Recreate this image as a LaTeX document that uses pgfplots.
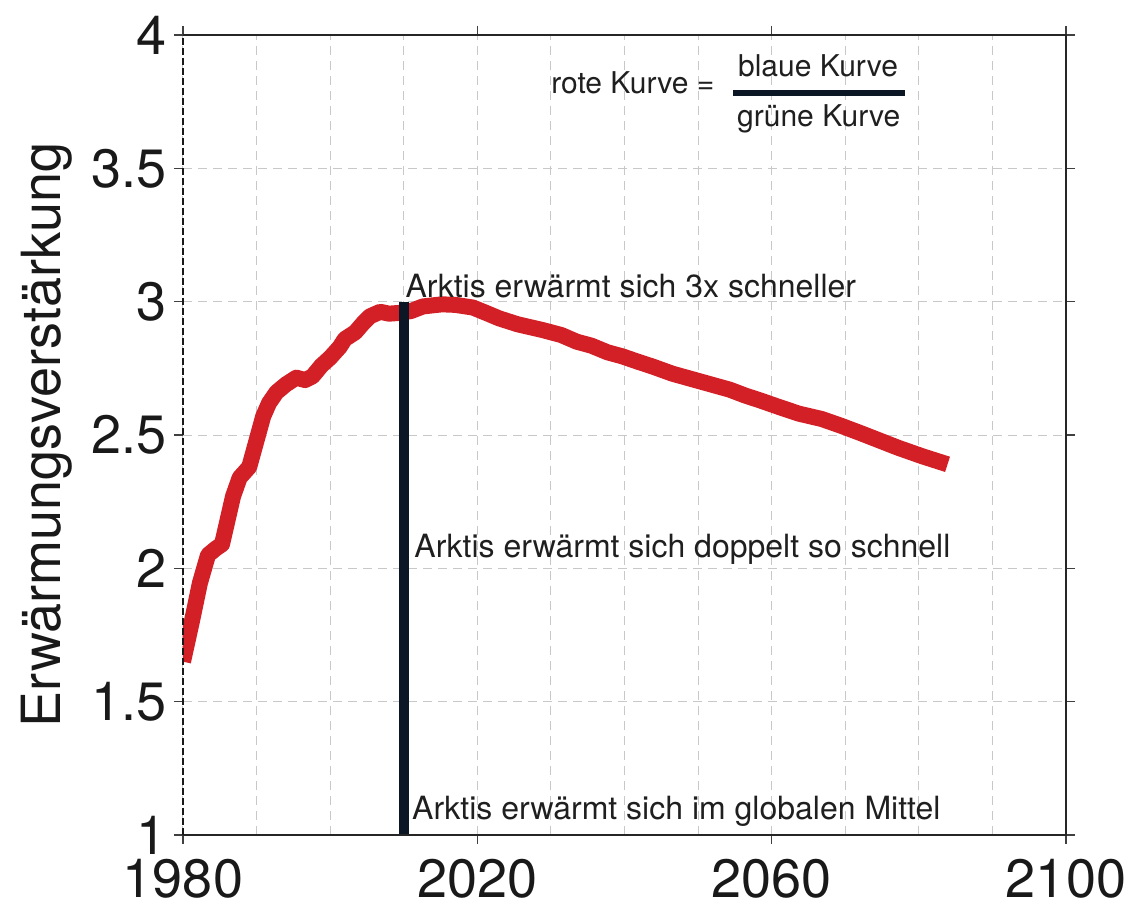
\documentclass[border=0pt]{standalone}
\usepackage{fontspec}
\setmainfont{TeX Gyre Heros}
\usepackage{pgfplots}
\pgfplotsset{compat=1.18}
\definecolor{redc}{HTML}{D32027}
\definecolor{navy}{HTML}{0B1724}
\definecolor{gridc}{HTML}{C8C8C8}
\begin{document}
\begin{tikzpicture}
\begin{axis}[
 name=ax,
 scale only axis, width=441.5pt, height=400pt,
 xmin=1980, xmax=2100, ymin=1, ymax=4,
 xtick={1980,2020,2060,2100},
 minor xtick={1990,2000,2010,2030,2040,2050,2070,2080,2090},
 ytick={1,1.5,2,2.5,3,3.5,4},
 grid=both,
 major grid style={gridc, line width=0.5pt, dash pattern=on 4.5pt off 3pt},
 minor grid style={gridc, line width=0.5pt, dash pattern=on 4.5pt off 3pt},
 tick align=outside, major tick length=4.5pt, minor tick length=0pt,
 tick style={black!75, line width=0.6pt},
 axis line style={draw=none},
 /pgf/number format/assume math mode=true,
 /pgf/number format/1000 sep={},
 tick label style={font=\fontsize{27}{30}\selectfont, text=black!90},
 xticklabel style={yshift=-6.5pt, inner sep=1pt},
 ylabel={Erwärmungsverstärkung},
 ylabel style={font=\fontsize{27}{30}\selectfont, text=black!90, at={(axis description cs:-0.154,0.5)}, anchor=center},
]
\addplot[redc, line width=8pt, line join=round] coordinates {
(1980.0,1.65) (1981.2,1.80) (1982.3,1.945) (1983.4,2.05) (1984.5,2.075)
(1985.3,2.09) (1986.8,2.27) (1987.7,2.34) (1989.0,2.38) (1990.2,2.50)
(1990.9,2.57) (1991.7,2.62) (1992.7,2.66) (1994.0,2.69) (1995.4,2.715)
(1996.6,2.706) (1997.6,2.72) (1998.8,2.76) (2000.0,2.79) (2001.3,2.83)
(2002.0,2.86) (2003.4,2.885) (2004.5,2.92) (2005.4,2.945) (2006.8,2.962)
(2008.0,2.955) (2009.5,2.958) (2011.0,2.965) (2012.6,2.982) (2015.2,2.99)
(2017.0,2.988) (2019.4,2.978) (2021.0,2.96) (2023.0,2.937) (2025.5,2.915)
(2028.8,2.894) (2031.4,2.875) (2033.5,2.85) (2035.5,2.835) (2037.7,2.81)
(2039.7,2.795) (2041.8,2.775) (2043.9,2.756) (2046.5,2.73) (2049.1,2.71)
(2051.7,2.69) (2054.3,2.67) (2056.4,2.648) (2058.4,2.63) (2061.0,2.605)
(2063.7,2.58) (2066.8,2.56) (2069.4,2.535) (2072.0,2.508) (2074.6,2.48)
(2077.2,2.452) (2080.5,2.42) (2083.9,2.39)
};
\addplot[navy, line width=5pt] coordinates {(2010,1) (2010,3)};
\node[anchor=base west, inner sep=0, text=black!88, font=\fontsize{16}{19}\selectfont] at (axis cs:2010.2,3.014) {Arktis erwärmt sich 3x schneller};
\node[anchor=base west, inner sep=0, text=black!88, font=\fontsize{16}{19}\selectfont] at (axis cs:2011.4,2.039) {Arktis erwärmt sich doppelt so schnell};
\node[anchor=base west, inner sep=0, text=black!88, font=\fontsize{16}{19}\selectfont] at (axis cs:2011.1,1.06) {Arktis erwärmt sich im globalen Mittel};
\node[anchor=base west, inner sep=0, text=black!88, font=\fontsize{15}{18}\selectfont] at (axis cs:2030,3.779) {rote Kurve =};
\draw[navy, line width=3pt] (axis cs:2054.75,3.784) -- (axis cs:2078.1,3.784);
\node[anchor=base, inner sep=0, text=black!88, font=\fontsize{15}{18}\selectfont] at (axis cs:2066.3,3.843) {blaue Kurve};
\node[anchor=base, inner sep=0, text=black!88, font=\fontsize{15}{18}\selectfont] at (axis cs:2066.4,3.655) {grüne Kurve};
\end{axis}
\draw[black!85, line width=0.6pt] (ax.south west) -- (ax.south east) -- (ax.north east) -- (ax.north west);
\draw[black!90, line width=0.8pt, dash pattern=on 3.5pt off 1.5pt] (ax.south west) -- (ax.north west);
\pgfresetboundingbox
\path[use as bounding box] ([xshift=-91.5pt,yshift=-40pt]ax.south west) rectangle ([xshift=33pt,yshift=17.5pt]ax.north east);
\end{tikzpicture}
\end{document}
